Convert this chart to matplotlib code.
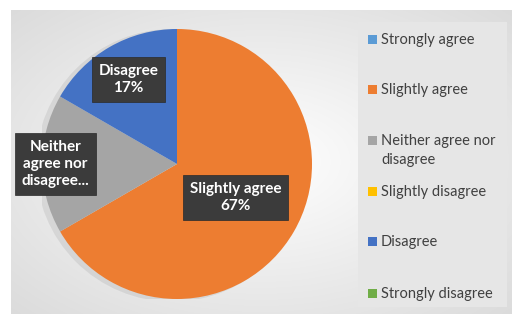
import numpy as np
import matplotlib.pyplot as plt
from matplotlib.patches import Rectangle, Circle

# survey answers (counts)
categories = ["Strongly agree", "Slightly agree", "Neither agree nor\ndisagree",
              "Slightly disagree", "Disagree", "Strongly disagree"]
counts = [0, 4, 1, 0, 1, 0]
colors = ["#5B9BD5", "#ED7D31", "#A5A5A5", "#FFC000", "#4472C4", "#70AD47"]

# data label text for the visible slices
label_names = {1: "Slightly agree", 2: "Neither\nagree nor\ndisagree...", 4: "Disagree"}
label_radius = {1: 0.50, 2: 0.90, 4: 0.72}

W, H = 523, 324
fig = plt.figure(figsize=(W / 100, H / 100), dpi=100, facecolor="white")

# chart area with radial gradient background
x0, y0, x1, y1 = 11, 10, 512, 314
bg = fig.add_axes((x0 / W, 1 - y1 / H, (x1 - x0) / W, (y1 - y0) / H))
gx, gy = np.meshgrid(np.linspace(-1, 1, 400), np.linspace(-1, 1, 250))
d = np.sqrt(gx ** 2 + gy ** 2) / np.sqrt(2)
shade = 1.0 - 0.14 * d
bg.imshow(np.dstack([shade, shade, shade]), aspect="auto", extent=(0, 1, 0, 1))
bg.set_axis_off()

# legend panel
lx0, ly0, lx1, ly1 = 358, 22, 507, 307
fig.patches.append(Rectangle((lx0 / W, 1 - ly1 / H), (lx1 - lx0) / W, (ly1 - ly0) / H,
                             transform=fig.transFigure, facecolor="#e6e6e6",
                             edgecolor="none", zorder=1))

# pie
cx, cy, r = 177, 164, 135
ax = fig.add_axes(((cx - r) / W, 1 - (cy + r) / H, 2 * r / W, 2 * r / H))
ax.add_patch(Circle((-0.035, -0.01), 1.01, facecolor="#000000", alpha=0.07,
                    edgecolor="none", zorder=0))
wedges, _ = ax.pie(counts, colors=colors, startangle=90, counterclock=False,
                   radius=1, wedgeprops=dict(linewidth=0))
ax.set_xlim(-1, 1)
ax.set_ylim(-1, 1)
ax.set_aspect("equal")

total = sum(counts)
for i, w in enumerate(wedges):
    if i not in label_names:
        continue
    mid = np.radians((w.theta1 + w.theta2) / 2)
    rr = label_radius[i]
    txt = label_names[i]
    if i != 2:
        txt += "\n%d%%" % round(counts[i] / total * 100)
    ax.text(rr * np.cos(mid), rr * np.sin(mid), txt, ha="center", va="center",
            color="white", fontsize=11, fontweight="bold", family="Lato",
            linespacing=1.3, zorder=5,
            bbox=dict(boxstyle="square,pad=0.45", facecolor="#3b3b3b",
                      edgecolor="#2a2a2a", linewidth=0.5))

# legend, drawn row by row to follow Excel's uneven spacing
row_y = [39, 89, 140, 191, 241, 293]
for cat, col, yy in zip(categories, colors, row_y):
    fig.patches.append(Rectangle((368 / W, 1 - (yy + 4.5) / H), 9 / W, 9 / H,
                                 transform=fig.transFigure, facecolor=col,
                                 edgecolor="none", zorder=3))
    fig.text(381 / W, 1 - (yy - 6) / H, cat, ha="left", va="top",
             family="Lato", fontsize=10.5, color="#404040",
             linespacing=1.45, zorder=3)

fig.savefig("out.png", dpi=100, facecolor="white")
